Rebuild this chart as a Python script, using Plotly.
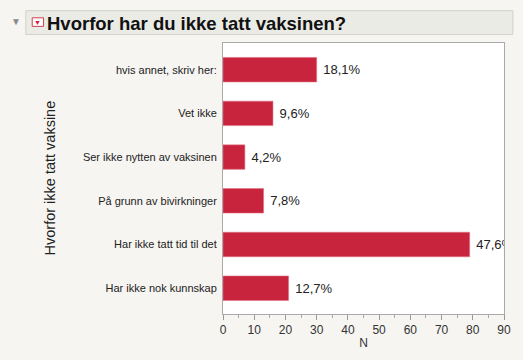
import plotly.graph_objects as go

# Responses (bottom to top as drawn)
categories = [
    "Har ikke nok kunnskap",
    "Har ikke tatt tid til det",
    "På grunn av bivirkninger",
    "Ser ikke nytten av vaksinen",
    "Vet ikke",
    "hvis annet, skriv her:",
]
counts = [21, 79, 13, 7, 16, 30]

total = sum(counts)
pct_labels = ["\u00a0" + f"{100 * n / total:.1f}%".replace(".", ",") for n in counts]

x_ticks = list(range(0, 91, 10))

BAR = "#c8243e"
BG = "#f6f5f1"

W, H = 523, 360
ML, MR, MT, MB = 223, 15, 43, 32
PW, PH = W - ML - MR, H - MT - MB


def px(x):
    return (x - ML) / PW


def py(y):
    return (H - MB - y) / PH


fig = go.Figure()
fig.add_trace(go.Bar(
    y=categories,
    x=counts,
    orientation="h",
    marker=dict(color=BAR, line=dict(color="#e07080", width=0.6)),
    width=0.56,
    text=pct_labels,
    textposition="outside",
    constraintext="none",
    cliponaxis=True,
    textfont=dict(family="Liberation Sans, Arial, sans-serif", size=13, color="#222"),
    hoverinfo="x+y",
))

fig.update_layout(
    width=W,
    height=H,
    margin=dict(l=ML, r=MR, t=MT, b=MB),
    paper_bgcolor=BG,
    plot_bgcolor="white",
    showlegend=False,
    font=dict(family="Liberation Sans, Arial, sans-serif", color="#222"),
    xaxis=dict(
        range=[0, 90],
        tickvals=x_ticks,
        ticks="outside",
        ticklen=5,
        tickcolor="#999",
        tickfont=dict(size=12, color="#333"),
        minor=dict(dtick=5, ticks="outside", ticklen=3, tickcolor="#aaa"),
        showgrid=False,
        zeroline=False,
        showline=True,
        linecolor="#aaa",
        linewidth=1,
        mirror=True,
        title=dict(text="N", font=dict(size=12, color="#333"), standoff=2),
    ),
    yaxis=dict(
        type="category",
        range=[-0.59, 5.61],
        ticks="",
        ticklabelstandoff=3,
        tickfont=dict(size=11, color="#222"),
        showgrid=False,
        zeroline=False,
        showline=True,
        linecolor="#aaa",
        linewidth=1,
        mirror=True,
    ),
)

# Y axis title placed well left of the category labels
fig.add_annotation(
    xref="paper", yref="paper", x=px(48), y=py(185),
    xanchor="center", yanchor="middle",
    text="Hvorfor ikke tatt vaksine",
    showarrow=False, textangle=-90,
    font=dict(size=14.5, color="#222"),
)

# Outline header bar with collapse triangle and red dropdown icon
fig.add_shape(type="rect", xref="paper", yref="paper",
              x0=px(23), x1=px(517), y0=py(34), y1=py(9),
              fillcolor="#ebebe6", line=dict(color="#d2d2cc", width=1), layer="below")
fig.add_annotation(xref="paper", yref="paper", x=px(13.5), y=py(20.5),
                   xanchor="center", yanchor="middle",
                   text="▼", showarrow=False,
                   font=dict(size=10, color="#8a8a8a"))
fig.add_shape(type="rect", xref="paper", yref="paper",
              x0=px(29.5), x1=px(41), y0=py(25.5), y1=py(16.5),
              fillcolor="white", line=dict(color="#d04050", width=1))
fig.add_annotation(xref="paper", yref="paper", x=px(35.2), y=py(21),
                   xanchor="center", yanchor="middle",
                   text="▼", showarrow=False,
                   font=dict(size=7, color="#d0202f"))
fig.add_annotation(xref="paper", yref="paper", x=px(42), y=py(22),
                   xanchor="left", yanchor="middle",
                   text="<b>Hvorfor har du ikke tatt vaksinen?</b>", showarrow=False,
                   font=dict(size=18.5, color="#111"))

fig.write_html("out.html")
